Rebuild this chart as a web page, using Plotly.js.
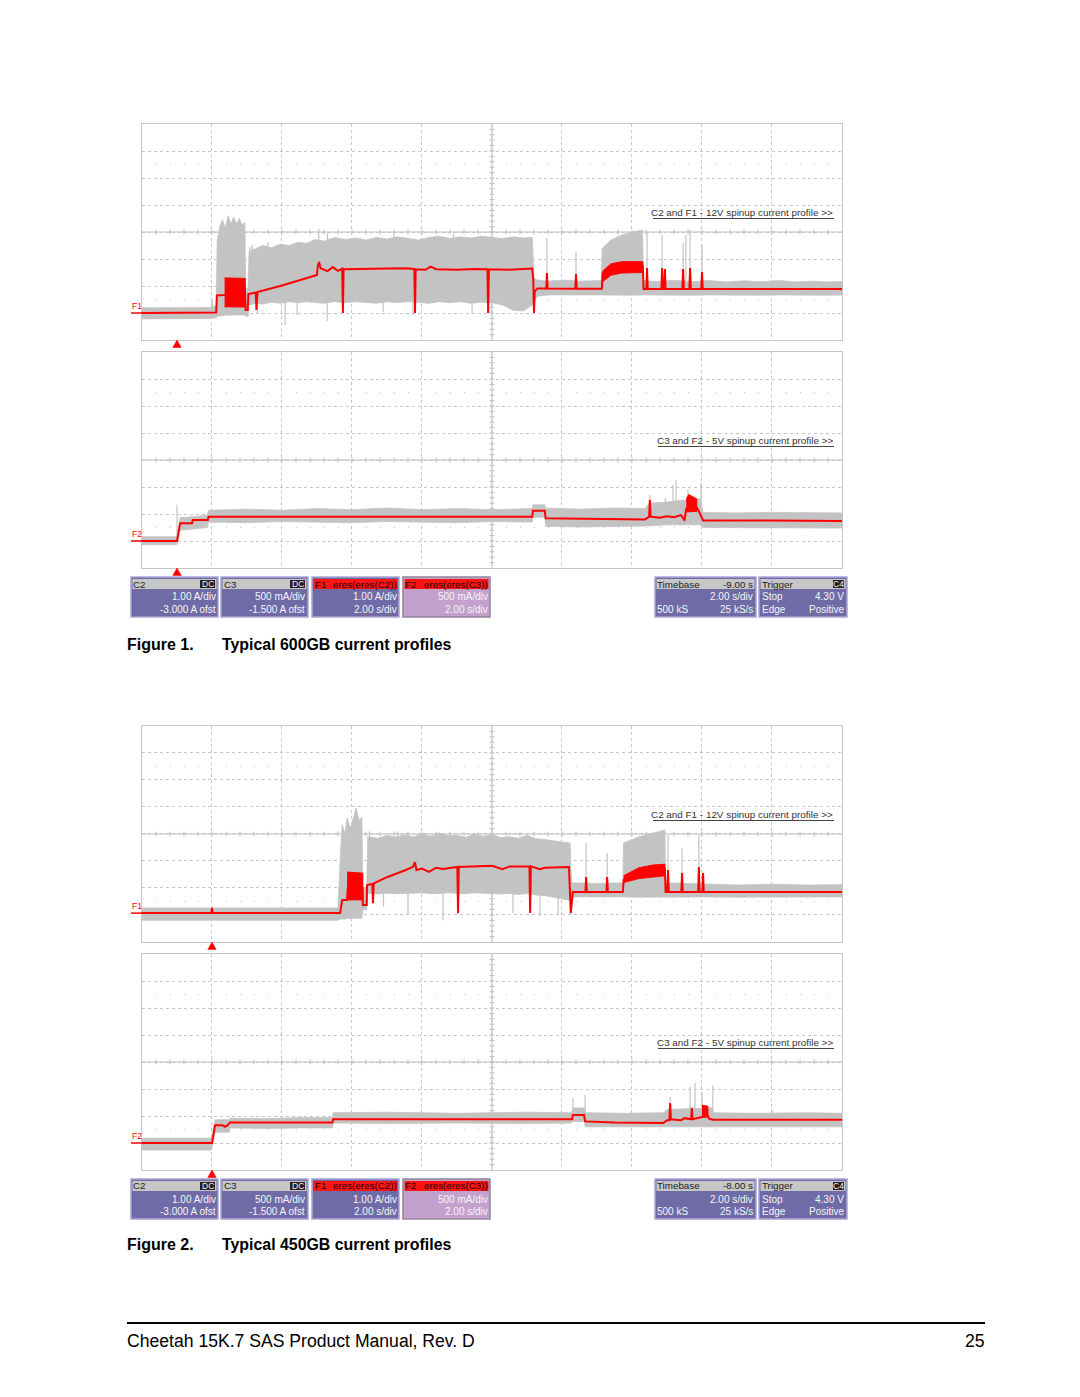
<!DOCTYPE html>
<html><head><meta charset="utf-8">
<script src="https://cdn.plot.ly/plotly-3.0.1.min.js"></script>
<style>html,body{margin:0;padding:0;background:#fff}#chart{width:1080px;height:1397px}</style>
</head><body><div id="chart"></div>
<script>
// ================= DATA (time in s, current in A) =================
// ---- Figure 1, 12 V : grey raw trace envelope [t, high, low]
const fig1_12V_band = [
 [-1,0.19,-0.22],[0.98,0.20,-0.20],[1.00,0.50,-0.18],[1.03,0.24,-0.18],[1.12,0.25,-0.18],
 [1.15,2.70,-0.12],[1.22,3.20,-0.10],[1.30,3.45,-0.10],[1.38,3.15,-0.08],[1.46,3.60,-0.08],
 [1.54,3.30,-0.08],[1.62,3.55,-0.07],[1.70,3.30,-0.07],[1.78,3.50,-0.07],[1.86,3.25,-0.07],
 [1.94,3.35,-0.07],[1.96,0.90,-0.12],[2.03,0.90,-0.12],[2.06,2.30,0.30],[2.25,2.38,0.36],
 [2.45,2.50,0.33],[2.70,2.42,0.40],[2.95,2.55,0.36],[3.20,2.50,0.42],[3.45,2.62,0.38],
 [3.70,2.58,0.42],[3.95,2.72,0.40],[4.20,2.66,0.36],[4.50,2.80,0.42],[4.80,2.72,0.38],
 [5.10,2.78,0.42],[5.40,2.70,0.40],[5.70,2.80,0.36],[6.00,2.74,0.42],[6.30,2.82,0.38],
 [6.60,2.76,0.42],[6.90,2.70,0.40],[7.20,2.80,0.36],[7.50,2.84,0.42],[7.80,2.76,0.38],
 [8.10,2.82,0.42],[8.40,2.78,0.36],[8.70,2.84,0.40],[9.00,2.80,0.38],[9.30,2.76,0.30],
 [9.60,2.82,0.10],[9.90,2.78,0.08],[10.15,2.80,0.30],[10.20,1.30,0.45],[10.30,1.22,0.62],
 [10.60,1.18,0.67],[11.00,1.22,0.66],[11.50,1.18,0.67],[12.12,1.20,0.67],[12.15,2.40,0.67],
 [12.40,2.70,0.66],[12.70,2.88,0.67],[13.00,3.00,0.66],[13.30,3.07,0.67],[13.33,1.20,0.67],
 [13.70,1.17,0.66],[14.20,1.21,0.67],[14.70,1.16,0.66],[15.20,1.20,0.67],[15.70,1.15,0.66],
 [16.20,1.19,0.67],[16.70,1.16,0.66],[17.20,1.20,0.67],[17.70,1.15,0.66],[18.20,1.18,0.67],
 [18.60,1.15,0.66],[19.00,1.17,0.67]
];
// grey spikes [t, from, to]
const fig1_12V_spikes = [
 [2.08,0.4,2.45],[2.15,0.4,2.52],[2.60,0.4,2.62],[4.05,0.4,3.12],[4.30,0.4,2.95],[6.20,0.4,2.95],[7.90,0.4,2.95],
 [2.30,0.0,0.4],[3.09,-0.44,0.4],[3.43,-0.07,0.4],[4.29,-0.30,0.4],[5.89,0.05,0.4],[6.74,-0.07,0.4],[8.43,-0.03,0.4],
 [10.57,0.9,2.78],[11.40,0.9,2.26],[13.43,0.9,2.96],[13.86,0.9,2.89],[14.46,0.9,2.59],[14.54,0.9,2.89],[14.66,0.9,3.07],[15.00,0.9,2.52]
];
// red F1 filtered trace [t, A]
const fig1_12V_F1 = [
 [-1,0.0],[1.12,0.02],[1.14,0.65],[1.40,0.67],[1.42,0.90],[1.94,0.90],[1.96,0.11],[2.02,0.11],[2.04,0.70],
 [2.25,0.76],[2.27,0.11],[2.30,0.78],[3.00,1.02],[3.50,1.22],[4.00,1.41],[4.02,1.72],[4.06,1.89],[4.10,1.66],
 [4.30,1.55],[4.45,1.70],[4.60,1.56],[4.72,1.64],[4.74,0.0],[4.76,1.62],[5.50,1.64],[6.00,1.63],[6.50,1.66],
 [6.78,1.63],[6.80,0.0],[6.82,1.62],[7.10,1.60],[7.25,1.72],[7.40,1.62],[8.00,1.60],[8.50,1.63],[8.87,1.62],
 [8.89,0.0],[8.91,1.62],[9.50,1.60],[10.15,1.65],[10.18,1.20],[10.20,0.0],[10.22,0.80],[10.30,0.91],[10.55,0.91],
 [10.57,1.48],[10.59,0.91],[11.38,0.90],[11.40,1.44],[11.42,0.90],[12.14,0.90],[12.16,1.48],[12.60,1.75],
 [13.31,1.72],[13.33,0.89],[13.41,0.89],[13.43,1.67],[13.45,0.89],[13.84,0.89],[13.86,1.67],[13.88,0.89],
 [13.92,0.89],[13.94,1.63],[13.96,0.89],[14.44,0.89],[14.46,1.63],[14.48,0.89],[14.64,0.89],[14.66,1.67],
 [14.68,0.89],[14.98,0.89],[15.00,1.52],[15.02,0.89],[19,0.89]
];
// dense red bursts [t, high, low]
const fig1_12V_F1burstA = [[1.36,1.30,0.23],[1.95,1.28,0.22]];
const fig1_12V_F1burstB = [[12.16,1.55,1.16],[12.40,1.82,1.40],[12.70,1.90,1.48],[13.31,1.90,1.50]];

// ---- Figure 1, 5 V
const fig1_5V_band = [
 [-1,0.08,-0.07],[-0.02,0.08,-0.07],[0.02,0.12,-0.05],[0.09,0.43,0.20],[0.45,0.45,0.22],[0.87,0.48,0.25],
 [0.90,0.57,0.35],[2.0,0.59,0.34],[3.0,0.57,0.36],[4.0,0.60,0.35],[5.0,0.58,0.34],[6.0,0.61,0.36],
 [7.0,0.58,0.35],[8.0,0.60,0.34],[9.0,0.58,0.36],[10.15,0.60,0.35],[10.17,0.67,0.44],[10.51,0.67,0.44],
 [10.53,0.61,0.27],[11.5,0.59,0.26],[12.5,0.61,0.27],[13.37,0.60,0.28],[13.5,0.70,0.28],[14.0,0.72,0.30],
 [14.5,0.76,0.30],[14.95,0.78,0.30],[15.03,0.53,0.25],[16.0,0.52,0.24],[17.0,0.53,0.25],[18.0,0.52,0.24],[19.0,0.52,0.24]
];
const fig1_5V_spikes = [[0.0,0.1,0.67],[13.51,0.6,0.85],[13.95,0.6,0.80],[14.17,0.6,1.04],[14.26,0.6,1.13],[14.60,0.6,0.95],[14.97,0.6,1.07]];
const fig1_5V_F2 = [
 [-1,0.0],[0.0,0.0],[0.09,0.33],[0.43,0.33],[0.45,0.39],[0.88,0.39],[0.90,0.45],[5.0,0.45],[10.15,0.45],
 [10.17,0.56],[10.51,0.56],[10.53,0.42],[12.0,0.41],[13.37,0.40],[13.49,0.45],[13.51,0.76],[13.53,0.45],
 [13.80,0.43],[14.00,0.46],[14.20,0.44],[14.40,0.48],[14.50,0.38],[14.55,0.60],[14.85,0.62],[14.95,0.50],
 [15.03,0.38],[17.0,0.38],[19.0,0.37]
];
const fig1_5V_F2burst = [[14.55,0.78,0.54],[14.62,0.86,0.54],[14.85,0.78,0.55]];

// ---- Figure 2, 12 V
const fig2_12V_band = [
 [-2,0.26,-0.19],[3.60,0.26,-0.19],[3.66,2.00,-0.15],[3.72,3.33,-0.15],[3.80,3.00,-0.15],[3.86,3.60,-0.12],
 [3.95,3.20,-0.12],[4.05,3.60,-0.12],[4.12,3.96,-0.12],[4.20,3.50,-0.12],[4.28,3.63,-0.12],[4.31,1.00,0.20],
 [4.42,1.00,0.20],[4.45,2.89,0.81],[4.75,2.84,0.78],[5.00,2.95,0.81],[5.25,2.88,0.79],[5.50,2.97,0.80],
 [5.75,2.90,0.82],[6.00,3.00,0.82],[6.25,2.92,0.79],[6.50,3.04,0.80],[6.75,2.94,0.82],[7.00,2.95,0.81],
 [7.25,2.88,0.79],[7.50,3.00,0.82],[7.75,2.92,0.80],[8.00,2.98,0.80],[8.25,2.86,0.78],[8.50,2.90,0.80],
 [8.75,2.84,0.76],[9.00,2.95,0.80],[9.25,2.82,0.74],[9.50,2.80,0.72],[9.75,2.74,0.66],[10.00,2.70,0.60],
 [10.23,2.67,0.55],[10.27,1.19,0.62],[10.31,1.19,0.67],[11.00,1.17,0.66],[11.74,1.19,0.67],[11.76,2.67,0.67],
 [12.20,2.90,0.66],[12.60,3.05,0.67],[12.94,3.15,0.67],[12.96,1.19,0.67],[13.50,1.16,0.66],[14.09,1.15,0.67],
 [15.00,1.11,0.66],[16.00,1.14,0.67],[17.00,1.11,0.66],[18.00,1.12,0.67]
];
const fig2_12V_spikes = [
 [0.0,0.1,0.30],[4.90,0.3,0.81],[5.60,0.0,0.81],[6.60,-0.19,0.81],[8.60,0.07,0.8],[9.37,-0.04,0.8],[9.89,0.0,0.7],
 [4.50,0.8,3.1],[5.30,0.8,3.1],[10.69,0.85,2.67],[11.29,0.85,2.30],[13.03,0.85,2.96],[13.43,0.85,2.48],[13.91,0.85,2.96]
];
const fig2_12V_F1 = [
 [-2,0.07],[-0.02,0.07],[0.0,0.26],[0.02,0.07],[3.66,0.07],[3.72,0.56],[3.86,0.56],[3.88,1.00],[4.30,1.00],
 [4.31,0.37],[4.42,0.37],[4.43,1.11],[4.58,1.15],[4.60,0.44],[4.62,1.17],[5.00,1.40],[5.50,1.65],[5.74,1.78],
 [5.80,1.96],[5.84,1.67],[6.00,1.72],[6.20,1.60],[6.40,1.75],[6.60,1.70],[7.01,1.78],[7.03,0.07],[7.05,1.78],
 [8.00,1.82],[8.30,1.70],[8.50,1.80],[9.07,1.80],[9.09,0.07],[9.11,1.80],[9.37,1.70],[9.50,1.75],[10.20,1.78],
 [10.25,0.07],[10.31,0.85],[10.67,0.85],[10.69,1.41],[10.71,0.85],[11.27,0.85],[11.29,1.41],[11.31,0.85],
 [11.74,0.85],[11.76,1.30],[12.20,1.60],[12.94,1.72],[12.96,0.85],[13.01,0.85],[13.03,1.67],[13.05,0.85],
 [13.41,0.85],[13.43,1.55],[13.45,0.85],[13.89,0.85],[13.91,1.78],[13.93,0.85],[14.01,0.85],[14.03,1.55],
 [14.05,0.85],[18,0.85]
];
const fig2_12V_F1burstA = [[3.86,1.59,0.56],[4.31,1.55,0.56]];
const fig2_12V_F1burstB = [[11.76,1.45,1.20],[12.20,1.75,1.35],[12.60,1.85,1.41],[12.94,1.88,1.45]];

// ---- Figure 2, 5 V
const fig2_5V_band = [
 [-2,0.09,-0.13],[-0.02,0.09,-0.13],[0.09,0.43,0.20],[0.50,0.43,0.20],[0.51,0.46,0.28],[1.5,0.45,0.27],
 [2.5,0.47,0.28],[3.44,0.47,0.28],[3.46,0.56,0.37],[5.0,0.57,0.36],[7.0,0.55,0.37],[9.0,0.57,0.36],
 [10.27,0.56,0.37],[10.31,0.65,0.40],[10.64,0.65,0.40],[10.66,0.56,0.30],[11.8,0.55,0.29],[12.90,0.56,0.30],
 [13.00,0.62,0.30],[14.30,0.65,0.30],[14.33,0.56,0.30],[15.5,0.55,0.29],[17.0,0.56,0.30],[18.0,0.55,0.30]
];
const fig2_5V_spikes = [[10.31,0.5,0.83],[10.66,0.5,0.89],[13.09,0.5,0.85],[13.66,0.5,1.04],[13.80,0.5,1.11],[14.00,0.5,0.93],[14.31,0.5,1.07],[16.0,0.3,0.62]];
const fig2_5V_F2 = [
 [-2,0.0],[0.0,0.0],[0.09,0.33],[0.30,0.33],[0.37,0.30],[0.45,0.33],[0.51,0.38],[3.44,0.38],[3.46,0.44],
 [10.29,0.44],[10.31,0.52],[10.63,0.52],[10.66,0.40],[11.50,0.38],[12.89,0.37],[13.00,0.42],[13.07,0.42],
 [13.09,0.74],[13.11,0.44],[13.40,0.42],[13.50,0.46],[13.69,0.44],[13.71,0.65],[13.73,0.44],[14.00,0.48],
 [14.17,0.50],[14.20,0.45],[14.31,0.43],[18,0.43]
];
const fig2_5V_F2burst = [[14.00,0.70,0.48],[14.17,0.68,0.48]];

const triggerTime = 0;
const panelLabels = ['C2 and F1 - 12V spinup current profile &gt;&gt;','C3 and F2 - 5V spinup current profile &gt;&gt;',
                     'C2 and F1 - 12V spinup current profile &gt;&gt;','C3 and F2 - 5V spinup current profile &gt;&gt;'];
const traceNames = ['F1','F2','F1','F2'];
const figCaptions = [['Figure 1.','Typical 600GB current profiles'],['Figure 2.','Typical 450GB current profiles']];
const timebaseDelay = ['-9.00 s','-8.00 s'];
const footerText = 'Cheetah 15K.7 SAS Product Manual, Rev. D';
const pageNumber = '25';

// ================= LAYOUT =================
const W = 1080, H = 1397;
const f = x => +(x / W).toFixed(6);
const g = y => +(1 - y / H).toFixed(6);
const FONT = 'Liberation Sans, Arial, sans-serif';
const GREY = '#c3c3c3', RED = '#ff0000';

const panels = [
 {id:'',  top:124, bottom:340, xr:[-1,19], yr:[-1,7],     ydt:1,   band:fig1_12V_band, spikes:fig1_12V_spikes, red:fig1_12V_F1, bursts:[fig1_12V_F1burstA, fig1_12V_F1burstB], ground:0},
 {id:'2', top:352, bottom:568, xr:[-1,19], yr:[-0.5,3.5], ydt:0.5, band:fig1_5V_band,  spikes:fig1_5V_spikes,  red:fig1_5V_F2,  bursts:[fig1_5V_F2burst], ground:0},
 {id:'3', top:726, bottom:942, xr:[-2,18], yr:[-1,7],     ydt:1,   band:fig2_12V_band, spikes:fig2_12V_spikes, red:fig2_12V_F1, bursts:[fig2_12V_F1burstA, fig2_12V_F1burstB], ground:0.07},
 {id:'4', top:954, bottom:1170,xr:[-2,18], yr:[-0.5,3.5], ydt:0.5, band:fig2_5V_band,  spikes:fig2_5V_spikes,  red:fig2_5V_F2,  bursts:[fig2_5V_F2burst], ground:0}
];
const LEFT = 142, RIGHT = 842;

const layout = {width:W, height:H, margin:{l:0,r:0,t:0,b:0}, paper_bgcolor:'#fff', plot_bgcolor:'#fff',
  showlegend:false, hovermode:false, shapes:[], annotations:[]};
const data = [];
const shapes = layout.shapes, ann = layout.annotations;

function poly(rows){ // polygon between high and low
  const x = rows.map(r=>r[0]).concat(rows.map(r=>r[0]).reverse());
  const y = rows.map(r=>r[1]).concat(rows.map(r=>r[2]).reverse());
  return {x, y};
}

panels.forEach((p, k) => {
  const xa = 'x'+p.id, ya = 'y'+p.id;
  layout['xaxis'+p.id] = {domain:[f(LEFT), f(RIGHT)], range:p.xr, anchor:ya, tick0:p.xr[0], dtick:2,
    showgrid:true, gridcolor:'#c6c6c6', griddash:'dot', gridwidth:1, showticklabels:false, ticks:'',
    zeroline:false, showline:true, linecolor:'#c6c6c6', linewidth:1, mirror:true, fixedrange:true};
  layout['yaxis'+p.id] = {domain:[g(p.bottom), g(p.top)], range:p.yr, anchor:xa, tick0:p.yr[0], dtick:p.ydt,
    showgrid:true, gridcolor:'#c6c6c6', griddash:'dot', gridwidth:1, showticklabels:false, ticks:'',
    zeroline:false, showline:true, linecolor:'#c6c6c6', linewidth:1, mirror:true, fixedrange:true};

  // grey band
  const b = poly(p.band);
  data.push({type:'scatter', mode:'lines', x:b.x, y:b.y, xaxis:xa, yaxis:ya, fill:'toself',
    fillcolor:GREY, line:{color:GREY, width:0.8}});
  // grey spikes
  const sx=[], sy=[];
  p.spikes.forEach(s=>{ sx.push(s[0],s[0],null); sy.push(s[1],s[2],null); });
  data.push({type:'scatter', mode:'lines', x:sx, y:sy, xaxis:xa, yaxis:ya, line:{color:GREY, width:1.2}});
  // red bursts
  p.bursts.forEach(bu=>{
    const q = poly(bu);
    data.push({type:'scatter', mode:'lines', x:q.x, y:q.y, xaxis:xa, yaxis:ya, fill:'toself',
      fillcolor:RED, line:{color:RED, width:1}});
  });
  // red filtered line
  data.push({type:'scatter', mode:'lines', x:p.red.map(r=>r[0]), y:p.red.map(r=>r[1]), xaxis:xa, yaxis:ya,
    line:{color:RED, width:2}});

  // graticule decoration: centre lines with ticks, dotted sub-rows
  const T=p.top, B=p.bottom, cx=(LEFT+RIGHT)/2, cy=(T+B)/2, dx=(RIGHT-LEFT)/50, dy=(B-T)/40;
  let d = `M${f(LEFT)},${g(cy)}L${f(RIGHT)},${g(cy)}M${f(cx)},${g(T)}L${f(cx)},${g(B)}`;
  for(let i=1;i<50;i++){ const x=LEFT+i*dx; d+=`M${f(x)},${g(cy-2.5)}L${f(x)},${g(cy+2.5)}`; }
  for(let j=1;j<40;j++){ const y=T+j*dy; d+=`M${f(cx-2.5)},${g(y)}L${f(cx+2.5)},${g(y)}`; }
  shapes.push({type:'path', xref:'paper', yref:'paper', path:d, line:{color:'#bdbdbd', width:1}, layer:'below'});
  let dots='';
  [7.5, 32.5].forEach(rr=>{ const y=T+rr*dy; for(let i=1;i<50;i++){ if(i%5===0) continue; const x=LEFT+i*dx; dots+=`M${f(x)},${g(y)}L${f(x+1)},${g(y)}`; } });
  shapes.push({type:'path', xref:'paper', yref:'paper', path:dots, line:{color:'#c4c4c4', width:1}, layer:'below'});

  // trigger marker
  shapes.push({type:'path', xref:xa, yref:'paper',
    path:`M${triggerTime},${g(B)}L${triggerTime-0.12},${g(B+7.5)}L${triggerTime+0.12},${g(B+7.5)}Z`,
    fillcolor:RED, line:{color:RED, width:0.5}, layer:'above'});
  // trace marker at left
  shapes.push({type:'line', xref:'paper', yref:ya, x0:f(131), x1:f(LEFT), y0:p.ground, y1:p.ground,
    line:{color:RED, width:1.5}, layer:'above'});
  ann.push({xref:'paper', yref:ya, x:f(130), y:p.ground, yshift:7, xanchor:'left', yanchor:'middle',
    text:traceNames[k], showarrow:false, font:{family:FONT, size:8.5, color:RED}});
  // panel label
  const ly = T + 88.5;
  ann.push({xref:'paper', yref:'paper', x:f(835), y:g(ly), xanchor:'right', yanchor:'middle',
    text:panelLabels[k], showarrow:false, font:{family:FONT, size:9.9, color:'#333'}});
  const lx0 = (k%2===0) ? 653 : 658;
  shapes.push({type:'line', xref:'paper', yref:'paper', x0:f(lx0), x1:f(834), y0:g(ly+6), y1:g(ly+6),
    line:{color:'#444', width:1}, layer:'above'});
});

// ---- instrument info boxes
const boxX = [[131,218],[221,308],[312,399],[403,490],[655,756],[759,847]];
function boxSpecs(fi){
  return [
   {kind:'ch', h:['C2',''], badge:'DC', r1:['','1.00 A/div'], r2:['','-3.000 A ofst']},
   {kind:'ch', h:['C3',''], badge:'DC', r1:['','500 mA/div'], r2:['','-1.500 A ofst']},
   {kind:'F1', h:['F1','eres(eres(C2))'], badge:'', r1:['','1.00 A/div'], r2:['','2.00 s/div']},
   {kind:'F2', h:['F2','eres(eres(C3))'], badge:'', r1:['','500 mA/div'], r2:['','2.00 s/div']},
   {kind:'ch', h:['Timebase', timebaseDelay[fi]], badge:'', r1:['','2.00 s/div'], r2:['500 kS','25 kS/s']},
   {kind:'ch', h:['Trigger',''], badge:'C4', r1:['Stop','4.30 V'], r2:['Edge','Positive']}
  ];
}
function txt(x, y, s, anchor, color, size){
  ann.push({xref:'paper', yref:'paper', x:f(x), y:g(y), xanchor:anchor, yanchor:'middle', text:s,
    showarrow:false, borderpad:0, font:{family:FONT, size:size||10, color:color}});
}
[577, 1179].forEach((y0, fi)=>{
  boxSpecs(fi).forEach((s, i)=>{
    const [x0, x1] = boxX[i];
    const isF = s.kind !== 'ch';
    const body = s.kind==='F2' ? '#c4a1cc' : '#6e6ba6';
    const border = s.kind==='F2' ? '#948599' : '#a9a5d8';
    shapes.push({type:'rect', xref:'paper', yref:'paper', x0:f(x0), x1:f(x1), y0:g(y0+40), y1:g(y0),
      fillcolor:body, line:{color:border, width:1.5}, layer:'above'});
    shapes.push({type:'rect', xref:'paper', yref:'paper', x0:f(x0+1.5), x1:f(x1-1.5), y0:g(y0+12), y1:g(y0+2),
      fillcolor:isF?'#ff1414':'#c6c6c6', line:{width:0}, layer:'above'});
    txt(x0+1.5, y0+7, s.h[0], 'left', isF?'#200':'#222', 9.8);
    if(s.h[1]) txt(x1-1.5, y0+7, s.h[1], 'right', isF?'#200':'#222', 9.8);
    if(s.badge){
      shapes.push({type:'rect', xref:'paper', yref:'paper', x0:f(x1-(s.badge==='DC'?18:14)), x1:f(x1-3), y0:g(y0+11), y1:g(y0+3),
        fillcolor:'#2c1c22', line:{width:0}, layer:'above'});
      txt(x1-(s.badge==='DC'?10.5:8.5), y0+7, s.badge, 'center', '#f2f2f2', 8.5);
    }
    const tc = '#f6f6f6';
    if(s.r1[0]) txt(x0+1.5, y0+20, s.r1[0], 'left', tc);
    if(s.r1[1]) txt(x1-1.5, y0+20, s.r1[1], 'right', tc);
    if(s.r2[0]) txt(x0+1.5, y0+32.5, s.r2[0], 'left', tc);
    if(s.r2[1]) txt(x1-1.5, y0+32.5, s.r2[1], 'right', tc);
  });
});

// ---- captions and footer
[644, 1245].forEach((y, fi)=>{
  ann.push({xref:'paper', yref:'paper', x:f(125), y:g(y), xanchor:'left', yanchor:'middle', showarrow:false,
    text:'<b>'+figCaptions[fi][0]+'</b>', font:{family:FONT, size:16, color:'#000'}});
  ann.push({xref:'paper', yref:'paper', x:f(220), y:g(y), xanchor:'left', yanchor:'middle', showarrow:false,
    text:'<b>'+figCaptions[fi][1]+'</b>', font:{family:FONT, size:15.9, color:'#000'}});
});
shapes.push({type:'line', xref:'paper', yref:'paper', x0:f(127), x1:f(985), y0:g(1323), y1:g(1323),
  line:{color:'#000', width:2}, layer:'above'});
ann.push({xref:'paper', yref:'paper', x:f(125), y:g(1341), xanchor:'left', yanchor:'middle', showarrow:false,
  text:footerText, font:{family:FONT, size:17.6, color:'#000'}});
ann.push({xref:'paper', yref:'paper', x:f(987), y:g(1341), xanchor:'right', yanchor:'middle', showarrow:false,
  text:pageNumber, font:{family:FONT, size:17.6, color:'#000'}});

Plotly.newPlot('chart', data, layout, {displayModeBar:false, staticPlot:true});
</script>
</body></html>
